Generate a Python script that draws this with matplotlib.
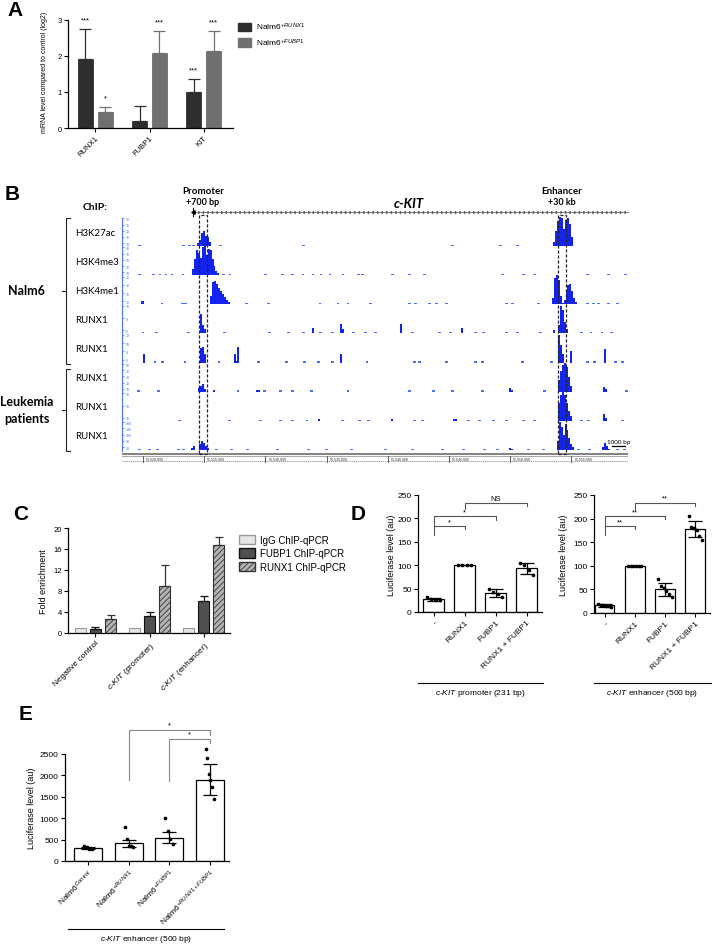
import numpy as np
import matplotlib
matplotlib.use('Agg')
import matplotlib.pyplot as plt
from matplotlib.patches import Rectangle, Patch
from matplotlib.lines import Line2D

plt.rcParams['font.family'] = ['Liberation Sans', 'DejaVu Sans']
plt.rcParams['mathtext.fontset'] = 'custom'
plt.rcParams['mathtext.rm'] = 'Liberation Sans'
plt.rcParams['mathtext.it'] = 'Liberation Sans:italic'
plt.rcParams['mathtext.bf'] = 'Liberation Sans:bold'
plt.rcParams['hatch.linewidth'] = 0.6

# ---------------- data ----------------
# A: qPCR, mRNA level vs control (log2)
a_genes = ['RUNX1', 'FUBP1', 'KIT']
a_runx1_mean = [1.92, 0.19, 1.00]
a_runx1_err = [0.83, 0.41, 0.35]
a_fubp1_mean = [0.44, 2.09, 2.13]
a_fubp1_err = [0.14, 0.59, 0.55]
a_runx1_sig = ['***', '', '***']
a_fubp1_sig = ['*', '***', '***']

# B: ChIP-seq tracks (positions in kb from 55,520,000)
GENOME_ORIGIN = 55520000
ruler_ticks = [55520000, 55525000, 55530000, 55535000, 55540000, 55545000, 55550000, 55555000]
promoter_kb = (4.58, 5.23)
enhancer_kb = (33.90, 34.56)
track_names = ['H3K27ac', 'H3K4me3', 'H3K4me1', 'RUNX1', 'RUNX1', 'RUNX1', 'RUNX1', 'RUNX1']
track_scales = [['30', '25', '20', '15', '10'], ['90', '70', '50', '30', '10'], ['25', '20', '15', '12'],
                ['10', '8', '6'], ['12', '10', '8', '6'], ['50', '40', '30', '20', '10'],
                ['50', '30', '10'], ['180', '140', '100', '60', '20']]
BIN = 0.16
track_peaks = [
    [(4.4, [0.1, 0.2, 0.45, 0.5, 0.35, 0.3, 0.15]),
     (33.5, [0.15, 0.5, 0.85, 1.0, 0.95, 0.6, 0.9, 0.95, 0.75, 0.3])],
    [(4.0, [0.2, 0.55, 0.85, 0.75, 0.6, 0.95, 1.0, 0.7, 0.9, 0.85, 0.55, 0.3, 0.15, 0.08])],
    [(-0.2, [0.1, 0.12]),
     (5.5, [0.3, 0.75, 0.8, 0.7, 0.55, 0.45, 0.35, 0.25, 0.15, 0.08]),
     (33.4, [0.2, 0.9, 1.0, 0.85, 0.3, 0.05, 0.15, 0.45, 0.65, 0.7, 0.45, 0.2, 0.08])],
    [(4.66, [0.65, 0.3, 0.15]), (13.8, [0.18]), (16.1, [0.32, 0.15]), (21.0, [0.33]),
     (26.0, [0.2]), (33.5, [0.1]), (33.9, [0.3, 0.95, 0.8, 0.4, 0.15])],
    [(0.0, [0.3]), (4.66, [0.5, 0.55, 0.3]), (7.4, [0.3, 0.05, 0.55]), (16.1, [0.3]),
     (33.9, [0.95, 0.6, 0.3]), (34.9, [0.4]), (37.66, [0.45])],
    [(4.5, [0.12, 0.2, 0.25, 0.1]), (5.7, [0.06]), (9.2, [0.05, 0.07]), (29.9, [0.12, 0.06]),
     (33.9, [0.4, 0.7, 0.9, 1.0, 0.85, 0.5, 0.2]), (37.6, [0.15, 0.08])],
    [(14.3, [0.08]), (20.3, [0.06]), (25.3, [0.05, 0.07]),
     (33.9, [0.6, 0.9, 1.0, 0.9, 0.6, 0.35, 0.15]), (37.6, [0.22, 0.1])],
    [(3.9, [0.08, 0.12]), (4.58, [0.2, 0.3, 0.25, 0.15, 0.08]), (29.9, [0.08, 0.05]),
     (33.8, [0.3, 0.95, 0.8, 0.5, 0.9, 0.7, 0.4, 0.2, 0.1]), (37.5, [0.1, 0.25, 0.15, 0.05])],
]
track_noise = [
    [-0.25, 3.3, 3.8, 4.1, 6.3, 13.1, 25.3, 29.2, 30.6],
    [-0.25, 0.82, 1.39, 1.88, 2.37, 3.27, 6.6, 7.11, 9.97, 11.36, 12.25, 13.07, 13.89, 14.54,
     15.28, 16.34, 17.6, 17.9, 20.4, 21.8, 23.0, 29.4, 31.05, 32.0, 36.3, 38.0, 39.4],
    [1.55, 3.2, 3.5, 8.42, 10.29, 14.46, 15.93, 16.75, 18.55, 21.8, 22.3, 23.4, 24.0, 24.8,
     29.7, 30.2, 32.3, 36.3, 36.8, 37.2, 38.0, 38.8],
    [0.0, 1.14, 3.68, 6.62, 10.3, 11.9, 13.1, 14.5, 15.5, 17.2, 18.2, 19.0, 22.0, 24.2, 25.1,
     27.2, 27.8, 29.7, 30.6, 32.5, 35.8, 36.6, 37.5, 38.3],
    [0.98, 1.63, 3.43, 6.21, 9.4, 11.7, 13.2, 14.3, 15.5, 18.3, 22.2, 22.6, 24.8, 27.2, 27.7,
     31.0, 33.4, 36.3, 36.9, 38.6, 39.2],
    [-0.4, 1.23, 7.76, 9.9, 11.2, 12.2, 13.8, 16.75, 21.8, 23.7, 25.3, 27.7, 32.8, 39.5],
    [3.0, 7.1, 9.6, 11.2, 12.2, 13.4, 16.3, 17.7, 18.4, 22.2, 22.8, 26.6, 27.5, 28.6, 29.7,
     31.1, 32.0, 35.8, 36.4, 39.2],
    [-0.3, 0.5, 1.2, 2.9, 3.3, 6.0, 7.2, 8.5, 11.0, 13.5, 15.0, 17.0, 19.8, 22.0, 24.5, 26.2,
     27.9, 29.0, 31.5, 32.7, 35.6, 36.5, 38.8, 39.3],
]

# C: ChIP-qPCR fold enrichment
c_regions = ['Negative control', '$\\it{c}$-$\\it{KIT}$ (promoter)', '$\\it{c}$-$\\it{KIT}$ (enhancer)']
c_igg = [1.0, 1.0, 1.0]
c_fubp1 = [0.75, 3.3, 6.1]
c_fubp1_err = [0.4, 0.7, 0.9]
c_runx1 = [2.6, 8.9, 16.8]
c_runx1_err = [0.9, 4.1, 1.5]

# D: luciferase, promoter and enhancer constructs
d_conditions = ['-', 'RUNX1', 'FUBP1', 'RUNX1 + FUBP1']
d_prom_mean = [27, 100, 41, 93]
d_prom_sd = [2.5, 0, 9, 11]
d_prom_points = [[31, 27, 26, 25], [100, 100, 100, 100], [49, 42, 38, 33], [104, 101, 90, 79]]
d_prom_sig = [(0, 1, 183, 165, 177, '*'), (0, 2, 205, 183, 196, '*'), (1, 3, 233, 220, 226, 'NS')]
d_enh_mean = [16, 100, 50, 178]
d_enh_sd = [3, 0, 13, 16]
d_enh_points = [[20, 18, 16, 15, 14, 12], [100] * 6, [73, 58, 53, 47, 40, 33],
                [205, 183, 180, 176, 163, 155]]
d_enh_sig = [(0, 1, 184, 165, 178, '**'), (0, 2, 205, 184, 199, '**'), (1, 3, 234, 220, 226, '**')]

# E: luciferase in Nalm6 lines
e_lines = ['Nalm6$^{Control}$', 'Nalm6$^{+RUNX1}$', 'Nalm6$^{+FUBP1}$', 'Nalm6$^{+RUNX1+FUBP1}$']
e_mean = [305, 410, 545, 1900]
e_sd = [30, 85, 130, 355]
e_points = [[345, 320, 290, 270], [790, 520, 350, 340, 330], [1000, 710, 520, 400],
            [2620, 2400, 2030, 1900, 1720, 1450]]
e_sig = [(1, 3, 3060, 1900, 2940, '*'), (2, 3, 2850, 1870, 2760, '*')]

# ---------------- helpers ----------------
W, H = 712, 945
DARK = '#2e2e2e'
MID = '#707070'
BLUE = '#1424f0'
TRACK_BLUE = '#4f6ef7'


def box(x0, y0, x1, y1):
    return [x0 / W, 1 - y1 / H, (x1 - x0) / W, (y1 - y0) / H]


def fx(x):
    return x / W


def fy(y):
    return 1 - y / H


def prism_axes(ax, fs=6):
    ax.spines['top'].set_visible(False)
    ax.spines['right'].set_visible(False)
    for s in ('left', 'bottom'):
        ax.spines[s].set_linewidth(0.9)
    ax.tick_params(direction='out', length=3, width=0.8, labelsize=fs, pad=1.5)


def fig_line(fig, xs, ys, color='k', lw=0.8):
    fig.add_artist(Line2D([fx(x) for x in xs], [fy(y) for y in ys],
                          transform=fig.transFigure, color=color, lw=lw))


def sig_bracket(ax, spec, color, fs, dy):
    i, j, level, left_low, right_low, label = spec
    ax.plot([i, i, j, j], [left_low, level, level, right_low], color=color, lw=0.8,
            clip_on=False)
    ax.text((i + j) / 2, level + dy, label, ha='center', va='bottom', fontsize=fs,
            clip_on=False)


def dot_plot(ax, means, sds, points, width, spread):
    x = np.arange(len(means))
    ax.bar(x, means, width, color='white', edgecolor='black', lw=0.9, zorder=1)
    ax.errorbar(x, means, yerr=sds, fmt='none', ecolor='black', elinewidth=0.9,
                capsize=5, capthick=0.9, zorder=3)
    for i, pts in enumerate(points):
        off = np.linspace(-spread, spread, len(pts))
        ax.scatter(i + off, pts, s=7, color='black', zorder=4, linewidths=0, clip_on=False)


fig = plt.figure(figsize=(7.12, 9.45), dpi=100)

panel_kw = dict(fontsize=15, fontweight='bold', ha='center', va='center')
fig.text(fx(15), fy(10), 'A', **panel_kw)
fig.text(fx(12), fy(195), 'B', **panel_kw)
fig.text(fx(21), fy(514), 'C', **panel_kw)
fig.text(fx(358), fy(514), 'D', **panel_kw)
fig.text(fx(26), fy(715), 'E', **panel_kw)

# ---------------- A ----------------
axA = fig.add_axes(box(68, 20.7, 233, 129))
prism_axes(axA, 5.5)
xa = np.arange(len(a_genes))
zeros = np.zeros(len(a_genes))
axA.bar(xa - 0.185, a_runx1_mean, 0.28, color=DARK, edgecolor=DARK, lw=0.6)
axA.bar(xa + 0.185, a_fubp1_mean, 0.28, color=MID, edgecolor=MID, lw=0.6)
axA.errorbar(xa - 0.185, a_runx1_mean, yerr=[zeros, a_runx1_err], fmt='none', ecolor=DARK,
             elinewidth=0.9, capsize=4.5, capthick=0.9)
axA.errorbar(xa + 0.185, a_fubp1_mean, yerr=[zeros, a_fubp1_err], fmt='none', ecolor=MID,
             elinewidth=0.9, capsize=4.5, capthick=0.9)
for i in range(len(a_genes)):
    axA.text(i - 0.185, a_runx1_mean[i] + a_runx1_err[i] + 0.25, a_runx1_sig[i],
             ha='center', va='center', fontsize=5.5, clip_on=False)
    axA.text(i + 0.185, a_fubp1_mean[i] + a_fubp1_err[i] + 0.25, a_fubp1_sig[i],
             ha='center', va='center', fontsize=5.5, clip_on=False)
axA.set_xlim(-0.509, 2.546)
axA.set_ylim(0, 3)
axA.set_yticks([0, 1, 2, 3])
axA.set_xticks(xa)
axA.set_xticklabels(a_genes, rotation=45, ha='right', rotation_mode='anchor')
fig.text(fx(45), fy(72), 'mRNA level compared to control (log2)', rotation=90,
         ha='center', va='center', fontsize=5)
axA.legend(handles=[Patch(facecolor=DARK, edgecolor=DARK), Patch(facecolor=MID, edgecolor=MID)],
           labels=['Nalm6$^{+RUNX1}$', 'Nalm6$^{+FUBP1}$'], loc='upper left',
           bbox_to_anchor=(fx(238), fy(22)), bbox_transform=fig.transFigure,
           frameon=False, fontsize=6, handlelength=1.6, handleheight=1.2,
           labelspacing=0.5, borderaxespad=0, borderpad=0, handletextpad=0.6)

# ---------------- B ----------------
axB = fig.add_axes(box(122, 205, 628, 470))
axB.set_xlim(-1.716, 39.624)
axB.set_ylim(-0.653, 8.441)
for s in ('top', 'right', 'bottom'):
    axB.spines[s].set_visible(False)
axB.spines['left'].set_color(TRACK_BLUE)
axB.spines['left'].set_linewidth(0.8)
axB.spines['left'].set_bounds(-0.03, 7.96)
axB.set_xticks([])

n_tracks = len(track_names)
ytick_pos, ytick_lab = [], []
for t in range(n_tracks):
    base = n_tracks - 1 - t
    for start, heights in track_peaks[t]:
        xs = start + BIN * np.arange(len(heights))
        axB.bar(xs, heights, width=BIN, bottom=base, align='edge', color=BLUE, lw=0)
    axB.bar(track_noise[t], 0.045, width=0.24, bottom=base, align='center',
            color=TRACK_BLUE, lw=0)
    labs = track_scales[t]
    ytick_pos += list(base + np.linspace(0.95, 0.1, len(labs)))
    ytick_lab += labs
axB.set_yticks(ytick_pos)
axB.set_yticklabels(ytick_lab)
axB.tick_params(axis='y', direction='in', length=1.5, width=0.5, colors=TRACK_BLUE,
                labelsize=2.6, pad=-2.5)
for lab in axB.get_yticklabels():
    lab.set_ha('left')

# promoter / enhancer boxes
for lo, hi in (promoter_kb, enhancer_kb):
    axB.add_patch(Rectangle((lo, -0.14), hi - lo, 8.2, fill=False, ls=(0, (2.5, 1.5)),
                            lw=0.9, ec='#222222', zorder=5))

# gene line
axB.plot([4.1, 39.6], [8.17, 8.17], color='#666666', lw=0.6, clip_on=False)
axB.plot([4.1, 39.6], [8.17, 8.17], color='#666666', lw=2.2, ls=(0, (0.5, 1.0)),
         clip_on=False)
axB.plot([4.1, 4.1], [8.03, 8.31], color='black', lw=0.8, clip_on=False)
axB.plot([4.1], [8.17], marker='<', ms=2.5, color='black', clip_on=False)

# ruler
axB.axhline(-0.138, color='#777777', lw=1.3)
axB.axhline(-0.207, color='#aaaaaa', lw=0.8)
axB.axhline(-0.378, color='#888888', lw=0.6, ls=(0, (1.5, 1.0)))
for pos in ruler_ticks:
    kb = (pos - GENOME_ORIGIN) / 1000
    axB.plot([kb, kb], [-0.42, -0.2], color='#444444', lw=0.6)
    axB.text(kb + 0.25, -0.29, f'{pos:,}', fontsize=2.6, ha='left', va='center',
             color='#333333')

# scale bar
axB.plot([38.35, 39.35], [0.137, 0.137], color='black', lw=0.9)
axB.text(38.85, 0.2, '1000 bp', fontsize=4.5, ha='center', va='bottom',
         family=['Lato', 'DejaVu Sans'])

btxt = dict(family=['Lato', 'DejaVu Sans'], ha='center', va='center', clip_on=False)
axB.text(sum(promoter_kb) / 2, 8.92, 'Promoter', fontsize=7, fontweight='bold', **btxt)
axB.text(sum(promoter_kb) / 2, 8.51, '+700 bp', fontsize=6.5, fontweight='bold', **btxt)
axB.text(sum(enhancer_kb) / 2, 8.92, 'Enhancer', fontsize=7, fontweight='bold', **btxt)
axB.text(sum(enhancer_kb) / 2, 8.51, '+30 kb', fontsize=6.5, fontweight='bold', **btxt)
axB.text(21.7, 8.48, 'c-KIT', fontsize=9.5, fontweight='bold', fontstyle='italic', **btxt)

fig.text(fx(95), fy(207), 'ChIP:', fontsize=7.5, fontweight='bold', ha='center',
         va='center', family=['Lato', 'DejaVu Sans'])
for t in range(n_tracks):
    fig.text(fx(75), fy(233 + 29.14 * t), track_names[t], fontsize=7, ha='left', va='center',
             family=['Lato', 'DejaVu Sans'])
# sample brackets
fig_line(fig, [70, 66, 66, 70], [219, 219, 365, 365], color='#222222', lw=0.8)
fig_line(fig, [62, 66], [292, 292], color='#222222', lw=0.8)
fig_line(fig, [70, 66, 66, 70], [370, 370, 452, 452], color='#222222', lw=0.8)
fig_line(fig, [62, 66], [411, 411], color='#222222', lw=0.8)
fig.text(fx(26), fy(291), 'Nalm6', fontsize=9, fontweight='bold', ha='center', va='center',
         family=['Lato', 'DejaVu Sans'])
fig.text(fx(27), fy(402), 'Leukemia', fontsize=9, fontweight='bold', ha='center',
         va='center', family=['Lato', 'DejaVu Sans'])
fig.text(fx(27), fy(419), 'patients', fontsize=9, fontweight='bold', ha='center',
         va='center', family=['Lato', 'DejaVu Sans'])

# ---------------- C ----------------
axC = fig.add_axes(box(68, 529, 230, 634))
prism_axes(axC, 5.5)
xc = np.arange(len(c_regions))
zc = np.zeros(len(c_regions))
axC.bar(xc - 0.278, c_igg, 0.2, color='#e6e6e6', edgecolor='#9a9a9a', lw=0.8)
axC.bar(xc, c_fubp1, 0.2, color='#505050', edgecolor='#111111', lw=0.8)
axC.bar(xc + 0.278, c_runx1, 0.2, color='#b4b4b4', edgecolor='#333333', lw=0.8, hatch='//////')
axC.errorbar(xc, c_fubp1, yerr=[zc, c_fubp1_err], fmt='none', ecolor='#111111',
             elinewidth=0.9, capsize=3, capthick=0.9)
axC.errorbar(xc + 0.278, c_runx1, yerr=[zc, c_runx1_err], fmt='none', ecolor='#333333',
             elinewidth=0.9, capsize=3, capthick=0.9)
axC.set_xlim(-0.509, 2.49)
axC.set_ylim(0, 20)
axC.set_yticks([0, 4, 8, 12, 16, 20])
axC.set_xticks(xc)
axC.set_xticklabels(c_regions, rotation=45, ha='right', rotation_mode='anchor', fontsize=6)
fig.text(fx(43), fy(582), 'Fold enrichment', rotation=90, ha='center', va='center', fontsize=6.5)
axC.legend(handles=[Patch(facecolor='#e6e6e6', edgecolor='#9a9a9a'),
                    Patch(facecolor='#505050', edgecolor='#111111'),
                    Patch(facecolor='#b4b4b4', edgecolor='#333333', hatch='//////')],
           labels=['IgG ChIP-qPCR', 'FUBP1 ChIP-qPCR', 'RUNX1 ChIP-qPCR'],
           loc='upper left', bbox_to_anchor=(fx(239), fy(536)), bbox_transform=fig.transFigure,
           frameon=False, fontsize=7, handlelength=1.6, handleheight=1.1, labelspacing=0.35,
           borderaxespad=0, borderpad=0, handletextpad=0.6)

# ---------------- D ----------------
axDl = fig.add_axes(box(418, 496, 542, 613))
prism_axes(axDl, 6)
dot_plot(axDl, d_prom_mean, d_prom_sd, d_prom_points, 0.68, 0.2)
for spec in d_prom_sig:
    sig_bracket(axDl, spec, '#555555', 5.5, 2)
axDl.set_xlim(-0.5, 3.5)
axDl.set_ylim(0, 250)
axDl.set_yticks([0, 50, 100, 150, 200, 250])
axDl.set_xticks(np.arange(4))
axDl.set_xticklabels(d_conditions, rotation=45, ha='right', rotation_mode='anchor')
fig.text(fx(392), fy(555), 'Luciferase level (au)', rotation=90, ha='center', va='center',
         fontsize=6.5)

axDr = fig.add_axes(box(594, 496, 710, 614))
prism_axes(axDr, 6)
dot_plot(axDr, d_enh_mean, d_enh_sd, d_enh_points, 0.65, 0.22)
for spec in d_enh_sig:
    sig_bracket(axDr, spec, '#555555', 5.5, 2)
axDr.set_xlim(-0.35, 3.49)
axDr.set_ylim(0, 250)
axDr.set_yticks([0, 50, 100, 150, 200, 250])
axDr.set_xticks(np.arange(4))
axDr.set_xticklabels(d_conditions, rotation=45, ha='right', rotation_mode='anchor')
fig.text(fx(563), fy(555), 'Luciferase level (au)', rotation=90, ha='center', va='center',
         fontsize=6.5)

fig_line(fig, [418, 543], [684, 684], lw=0.8)
fig_line(fig, [594, 712], [684, 684], lw=0.8)
fig.text(fx(480), fy(694), '$\\it{c}$-$\\it{KIT}$ promoter (231 bp)', ha='center', va='center',
         fontsize=6)
fig.text(fx(652), fy(694), '$\\it{c}$-$\\it{KIT}$ enhancer (500 bp)', ha='center', va='center',
         fontsize=6)

# ---------------- E ----------------
axE = fig.add_axes(box(65, 755, 229, 862))
prism_axes(axE, 6)
dot_plot(axE, e_mean, e_sd, e_points, 0.69, 0.1)
for spec in e_sig:
    sig_bracket(axE, spec, '#888888', 5.5, 30)
axE.set_xlim(-0.57, 3.48)
axE.set_ylim(0, 2500)
axE.set_yticks([0, 500, 1000, 1500, 2000, 2500])
axE.set_xticks(np.arange(4))
axE.set_xticklabels(e_lines, rotation=45, ha='right', rotation_mode='anchor')
fig.text(fx(32), fy(808), 'Luciferase level (au)', rotation=90, ha='center', va='center',
         fontsize=6.5)
fig_line(fig, [68, 224], [930, 930], lw=0.8)
fig.text(fx(146), fy(940), '$\\it{c}$-$\\it{KIT}$ enhancer (500 bp)', ha='center', va='center',
         fontsize=6)

fig.savefig('out.png', dpi=100)
